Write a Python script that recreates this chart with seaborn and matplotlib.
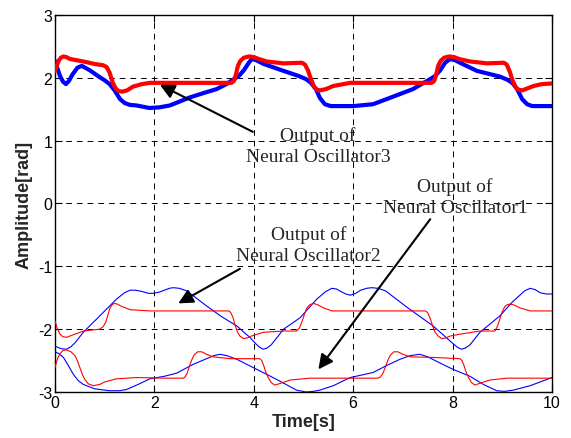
import numpy as np
import pandas as pd
import matplotlib
matplotlib.use("Agg")
import matplotlib.pyplot as plt
import seaborn as sns

# Dane
# Oscylator 3 (grube linie)
t_o3_blue = [0, 0.05, 0.1, 0.16, 0.22, 0.28, 0.35, 0.45, 0.54, 0.7, 0.9, 1.0, 1.1, 1.2, 1.31, 1.4, 1.5, 1.64, 1.9,
             2.1, 2.31, 2.5, 2.72, 3.0, 3.25, 3.45, 3.6, 3.7, 3.8, 3.9, 3.96, 4.05, 4.2, 4.6, 4.9, 5.05, 5.15,
             5.25, 5.33, 5.43, 5.55, 5.7, 6.0, 6.4, 6.87, 7.2, 7.55, 7.65, 7.75, 7.85, 7.95, 8.05, 8.2, 8.49, 8.95,
             9.1, 9.2, 9.3, 9.4, 9.5, 9.6, 9.7, 10]
y_o3_blue = [2.27, 2.15, 2.03, 1.94, 1.90, 1.95, 2.05, 2.16, 2.19, 2.12, 2.01, 1.96, 1.90, 1.80, 1.66, 1.60, 1.57, 1.56,
             1.52, 1.53, 1.56, 1.62, 1.69, 1.76, 1.82, 1.90, 1.98, 2.03, 2.12, 2.24, 2.30, 2.28, 2.22, 2.11, 2.03,
             1.98, 1.92, 1.82, 1.68, 1.58, 1.55, 1.55, 1.55, 1.58, 1.72, 1.82, 1.98, 2.03, 2.12, 2.24, 2.30, 2.28,
             2.22, 2.11, 2.02, 1.97, 1.92, 1.82, 1.66, 1.58, 1.55, 1.55, 1.55]

t_o3_red = [0, 0.04, 0.08, 0.12, 0.17, 0.23, 0.3, 0.57, 0.8, 0.97, 1.04, 1.1, 1.16, 1.22, 1.28, 1.35, 1.45, 1.57, 1.75,
            1.91, 2.5, 3.0, 3.55, 3.6, 3.64, 3.68, 3.73, 3.8, 3.9, 4.0, 4.1, 4.26, 4.6, 4.97, 5.03, 5.09, 5.15,
            5.21, 5.27, 5.33, 5.45, 5.6, 5.94, 6.5, 7.0, 7.58, 7.63, 7.67, 7.71, 7.76, 7.83, 7.93, 8.03, 8.13, 8.35,
            8.7, 9.03, 9.09, 9.15, 9.21, 9.27, 9.33, 9.4, 9.5, 9.63, 9.8, 10]
y_o3_red = [2.11, 2.20, 2.28, 2.32, 2.34, 2.33, 2.30, 2.26, 2.22, 2.20, 2.17, 2.08, 1.93, 1.83, 1.79, 1.78, 1.80, 1.86,
            1.90, 1.92, 1.92, 1.92, 1.92, 1.95, 2.05, 2.19, 2.27, 2.32, 2.34, 2.33, 2.30, 2.26, 2.23, 2.24, 2.21,
            2.12, 1.98, 1.86, 1.81, 1.80, 1.82, 1.87, 1.92, 1.92, 1.92, 1.92, 1.95, 2.05, 2.19, 2.27, 2.32, 2.34,
            2.33, 2.30, 2.26, 2.23, 2.24, 2.21, 2.10, 1.95, 1.85, 1.81, 1.80, 1.83, 1.87, 1.90, 1.91]

# Oscylator 2
t_o2_blue = [0, 0.12, 0.23, 0.32, 0.4, 0.57, 0.9, 1.24, 1.4, 1.51, 1.62, 1.75, 1.88, 1.98, 2.1, 2.2, 2.3, 2.38, 2.5,
             2.65, 3.05, 3.35, 3.66, 3.92, 4.05, 4.12, 4.19, 4.27, 4.35, 4.6, 4.93, 5.27, 5.45, 5.57, 5.66, 5.75,
             5.85, 5.94, 6.05, 6.15, 6.27, 6.37, 6.5, 6.65, 7.08, 7.61, 7.98, 8.1, 8.18, 8.26, 8.35, 8.55, 8.95,
             9.2, 9.45, 9.56, 9.66, 9.76, 9.88, 10]
y_o2_blue = [-2.27, -2.31, -2.32, -2.28, -2.22, -2.05, -1.79, -1.52, -1.42, -1.38, -1.38, -1.40, -1.43, -1.43, -1.41,
             -1.38, -1.35, -1.34, -1.35, -1.39, -1.63, -1.80, -1.95, -2.13, -2.24, -2.29, -2.32, -2.30, -2.25,
             -2.0, -1.82, -1.52, -1.40, -1.35, -1.36, -1.40, -1.44, -1.46, -1.43, -1.38, -1.35, -1.34, -1.35,
             -1.39, -1.65, -1.95, -2.21, -2.29, -2.32, -2.30, -2.25, -2.05, -1.79, -1.57, -1.39, -1.35, -1.37,
             -1.42, -1.44, -1.44]

t_o2_red = [0, 0.05, 0.1, 0.16, 0.23, 0.4, 0.57, 0.9, 0.97, 1.02, 1.06, 1.1, 1.14, 1.19, 1.25, 1.35, 1.51, 1.91, 2.5,
            3.0, 3.5, 3.54, 3.58, 3.62, 3.67, 3.72, 3.79, 3.87, 3.95, 4.19, 4.6, 4.86, 4.92, 4.97, 5.02, 5.07, 5.13,
            5.2, 5.28, 5.4, 5.57, 6.0, 7.0, 7.46, 7.5, 7.55, 7.6, 7.65, 7.71, 7.78, 7.86, 7.95, 8.15, 8.55, 8.85,
            8.9, 8.95, 9.0, 9.05, 9.1, 9.16, 9.25, 9.35, 9.56, 10]
y_o2_red = [-1.87, -2.0, -2.08, -2.12, -2.13, -2.08, -2.03, -2.0, -1.96, -1.89, -1.79, -1.68, -1.62, -1.59, -1.60,
            -1.64, -1.69, -1.71, -1.71, -1.71, -1.71, -1.74, -1.81, -1.93, -2.04, -2.11, -2.15, -2.14, -2.11,
            -2.05, -2.03, -2.03, -1.98, -1.88, -1.76, -1.66, -1.61, -1.59, -1.61, -1.66, -1.71, -1.71, -1.71,
            -1.71, -1.74, -1.83, -1.95, -2.05, -2.11, -2.15, -2.14, -2.11, -2.08, -2.03, -2.03, -1.96, -1.84,
            -1.72, -1.64, -1.61, -1.60, -1.62, -1.66, -1.71, -1.71]

# Oscylator 1
t_o1_blue = [0, 0.08, 0.17, 0.27, 0.37, 0.47, 0.57, 0.8, 1.1, 1.3, 1.44, 1.7, 1.91, 2.2, 2.45, 2.78, 3.05, 3.2, 3.32,
             3.45, 3.66, 4.06, 4.46, 4.86, 5.05, 5.2, 5.33, 5.6, 5.94, 6.4, 6.67, 6.94, 7.15, 7.34, 7.5, 7.75, 8.01,
             8.35, 8.62, 8.89, 9.05, 9.22, 9.56, 10]
y_o1_blue = [-2.36, -2.39, -2.45, -2.58, -2.72, -2.82, -2.88, -2.95, -2.98, -2.98, -2.96, -2.87, -2.79, -2.75, -2.70,
             -2.56, -2.47, -2.42, -2.40, -2.42, -2.48, -2.64, -2.80, -2.97, -3.0, -2.99, -2.97, -2.90, -2.77, -2.69,
             -2.58, -2.48, -2.42, -2.40, -2.44, -2.54, -2.64, -2.75, -2.88, -2.98, -2.99, -2.97, -2.90, -2.77]

t_o1_red = [0, 0.05, 0.1, 0.16, 0.23, 0.32, 0.4, 0.45, 0.5, 0.55, 0.6, 0.67, 0.77, 0.9, 1.0, 1.24, 1.64, 2.2, 2.58,
            2.62, 2.66, 2.7, 2.75, 2.8, 2.87, 2.95, 3.05, 3.18, 3.52, 4.12, 4.16, 4.2, 4.24, 4.29, 4.35, 4.42, 4.55,
            4.73, 5.13, 6.0, 6.5, 6.55, 6.6, 6.65, 6.7, 6.75, 6.82, 6.9, 7.0, 7.14, 7.61, 8.15, 8.19, 8.23, 8.27,
            8.32, 8.38, 8.45, 8.55, 8.75, 9.09, 10]
y_o1_red = [-2.61, -2.47, -2.39, -2.34, -2.33, -2.36, -2.42, -2.50, -2.61, -2.72, -2.80, -2.87, -2.90, -2.88, -2.84,
            -2.79, -2.77, -2.78, -2.78, -2.76, -2.70, -2.60, -2.49, -2.41, -2.36, -2.36, -2.40, -2.44, -2.47, -2.47,
            -2.50, -2.58, -2.68, -2.77, -2.85, -2.89, -2.86, -2.81, -2.78, -2.78, -2.78, -2.76, -2.70, -2.60, -2.49,
            -2.41, -2.36, -2.36, -2.40, -2.44, -2.45, -2.47, -2.50, -2.58, -2.68, -2.77, -2.85, -2.89, -2.86, -2.81,
            -2.78, -2.78]

x_ticks = [0, 2, 4, 6, 8, 10]
y_ticks = [-3, -2, -1, 0, 1, 2, 3]

sns.set_theme(style="ticks")
plt.rcParams['font.family'] = ['Liberation Sans', 'DejaVu Sans']

fig = plt.figure(figsize=(5.71, 4.39), dpi=100)
ax = fig.add_axes([0.0963, 0.1048, 0.8704, 0.8588])

serie = [
    (t_o3_blue, y_o3_blue, 'blue', 3.0),
    (t_o3_red, y_o3_red, 'red', 3.0),
    (t_o2_blue, y_o2_blue, 'blue', 0.8),
    (t_o2_red, y_o2_red, 'red', 0.8),
    (t_o1_blue, y_o1_blue, 'blue', 0.8),
    (t_o1_red, y_o1_red, 'red', 0.8),
]
for t, y, kolor, lw in serie:
    df = pd.DataFrame({'t': t, 'y': y})
    sns.lineplot(data=df, x='t', y='y', color=kolor, linewidth=lw, ax=ax,
                 estimator=None, sort=False, zorder=3,
                 solid_joinstyle='round', solid_capstyle='round')

ax.set_xlim(0, 10)
ax.set_ylim(-3, 3)
ax.set_xticks(x_ticks)
ax.set_yticks(y_ticks)
ax.set_xticklabels([str(v) for v in x_ticks])
ax.set_yticklabels([str(v) for v in y_ticks])
ax.tick_params(direction='in', length=5, width=0.8, top=True, right=True,
               labelsize=11.5, colors='black', pad=2)
ax.grid(True, color='black', linestyle=(0, (6, 5)), linewidth=0.7)
for s in ax.spines.values():
    s.set_color('black')
    s.set_linewidth(1.0)
    s.set_visible(True)

ax.set_xlabel("Time[s]", fontsize=13, fontweight='bold', labelpad=2)
ax.set_ylabel("Amplitude[rad]", fontsize=13, fontweight='bold', labelpad=4)

# adnotacje
strzalka = dict(arrowstyle='-|>', color='black', lw=1.5, mutation_scale=22,
                shrinkA=0, shrinkB=0)
tekst = dict(fontsize=14, family=['Liberation Serif', 'DejaVu Serif'],
             ha='center', va='center', linespacing=1.3)

ax.annotate("", xy=(2.11, 1.89), xytext=(3.98, 1.14), arrowprops=strzalka, zorder=5)
ax.text(5.29, 0.92, "Output of\nNeural Oscillator3", **tekst)

ax.annotate("", xy=(5.30, -2.64), xytext=(7.55, -0.25), arrowprops=strzalka, zorder=5)
ax.text(8.05, 0.11, "Output of\nNeural Oscillator1", **tekst)

ax.annotate("", xy=(2.48, -1.59), xytext=(3.72, -1.04), arrowprops=strzalka, zorder=5)
ax.text(5.10, -0.65, "Output of\nNeural Oscillator2", **tekst)

fig.savefig("out.png", dpi=100)
